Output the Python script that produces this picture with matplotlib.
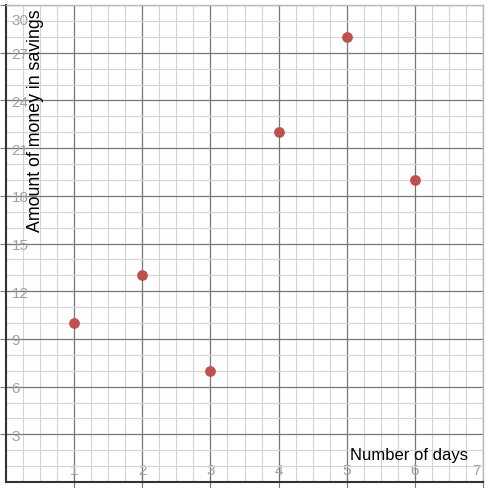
import numpy as np
import matplotlib.pyplot as plt
import matplotlib.transforms as mtransforms
from matplotlib.ticker import MultipleLocator

# dados do gráfico
dias = [1, 2, 3, 4, 5, 6]
poupanca = [10, 13, 7, 22, 28, 19]
x_ticks = [1, 2, 3, 4, 5, 6, 7]
y_ticks = [3, 6, 9, 12, 15, 18, 21, 24, 27, 30]

plt.rcParams['font.family'] = ['Liberation Sans', 'DejaVu Sans']

fig = plt.figure(figsize=(4.91, 4.89), dpi=100)
ax = fig.add_axes([6 / 491, 6 / 489, 477 / 491, 477 / 489])

ax.set_xlim(0, 7)
ax.set_ylim(0, 30)

# grade principal e secundária
ax.xaxis.set_major_locator(MultipleLocator(1))
ax.yaxis.set_major_locator(MultipleLocator(3))
ax.xaxis.set_minor_locator(MultipleLocator(0.25))
ax.yaxis.set_minor_locator(MultipleLocator(1))
ax.grid(which='minor', color='#d4d4d4', linewidth=0.8)
ax.grid(which='major', color='#777777', linewidth=0.9)
ax.set_axisbelow(True)

ax.set_xticks(x_ticks)
ax.set_yticks(y_ticks)
ax.set_xticklabels([str(t) for t in x_ticks])
ax.set_yticklabels([str(t) for t in y_ticks])

# rótulos dos ticks dentro da área do gráfico
ax.tick_params(axis='x', which='major', direction='inout', length=8, color='#777777',
               labelcolor='#a0a0a0', labelsize=11, pad=-18)
ax.tick_params(axis='y', which='major', direction='inout', length=8, color='#777777',
               labelcolor='#a0a0a0', labelsize=11, pad=-8)
ax.tick_params(which='minor', length=0)
for lbl in ax.get_yticklabels():
    lbl.set_horizontalalignment('left')

# deslocar rótulos das extremidades para não cortar
fig.canvas.draw()
ylbls = ax.get_yticklabels()
ylbls[-1].set_transform(ylbls[-1].get_transform() +
                        mtransforms.ScaledTranslation(0, -10 / 72, fig.dpi_scale_trans))
xlbls = ax.get_xticklabels()
xlbls[-1].set_transform(xlbls[-1].get_transform() +
                        mtransforms.ScaledTranslation(-5 / 72, 0, fig.dpi_scale_trans))

for s in ['top', 'right']:
    ax.spines[s].set_color('#bbbbbb')
    ax.spines[s].set_linewidth(1)
for s in ['left', 'bottom']:
    ax.spines[s].set_color('#333333')
    ax.spines[s].set_linewidth(1.5)

ax.scatter(dias, poupanca, s=45, color='#c0504d', zorder=3)

ax.text(0.43, 22.8, 'Amount of money in savings', rotation=90, ha='center', va='center',
        fontsize=12.8, color='black')
ax.text(5.05, 1.7, 'Number of days', ha='left', va='center', fontsize=12, color='black')

fig.savefig('out.png', dpi=100)
